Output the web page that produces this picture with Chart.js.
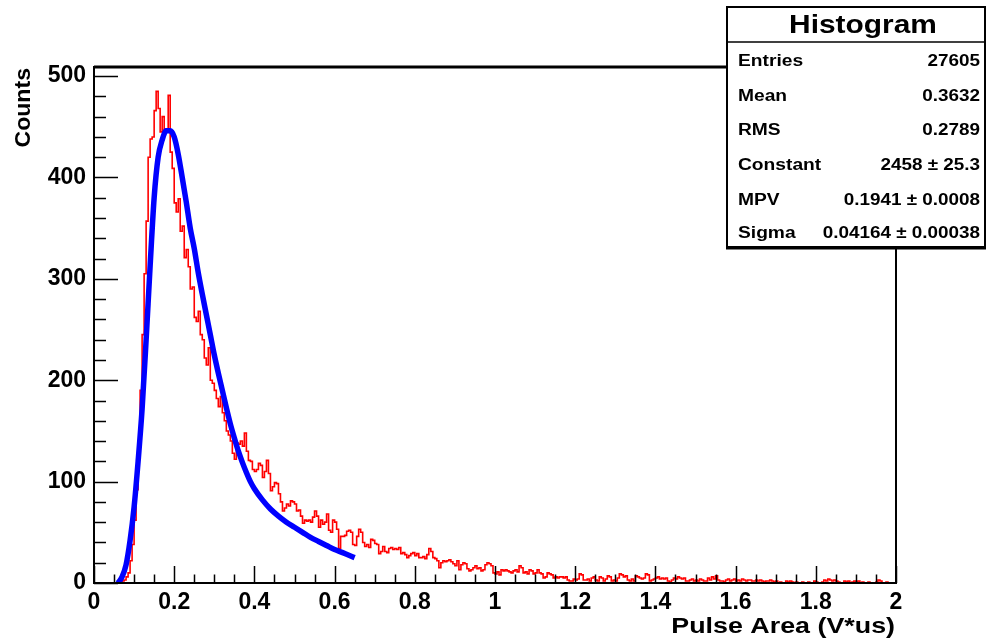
<!DOCTYPE html>
<html>
<head>
<meta charset="utf-8">
<script src="https://cdn.jsdelivr.net/npm/chart.js@4.4.1/dist/chart.umd.min.js"></script>
<style>
  html, body { margin: 0; padding: 0; background: #fff; }
  canvas { display: block; }
</style>
</head>
<body>
<canvas id="histChart" width="987" height="639"></canvas>
<script>
// histogram: 400 bins of width 0.005 from 0 to 2 (counts)
const binStart = 0;
const binWidth = 0.005;
const counts = [
  0, 0, 0, 0, 0, 0, 0, 0, 0, 0,
  0, 0, 0, 1, 2, 3, 6, 10, 22, 38,
  62, 92, 130, 190, 245, 305, 357, 420, 438, 440,
  466, 485, 468, 445, 460, 445, 448, 481, 425, 409,
  375, 366, 379, 347, 352, 321, 329, 312, 290, 292,
  262, 258, 268, 245, 240, 222, 215, 232, 200, 197,
  190, 182, 174, 184, 168, 160, 150, 146, 140, 128,
  122, 138, 137, 140, 135, 148, 130, 121, 120, 112,
  110, 112, 118, 116, 104, 110, 121, 108, 91, 95,
  99, 98, 88, 80, 71, 74, 78, 76, 81, 80,
  78, 71, 72, 66, 59, 62, 61, 62, 60, 65,
  71, 66, 55, 62, 58, 60, 68, 52, 50, 62,
  60, 53, 34, 46, 46, 47, 51, 52, 50, 38,
  37, 46, 53, 50, 40, 36, 38, 35, 43, 42,
  39, 38, 29, 31, 36, 31, 30, 34, 35, 33,
  34, 33, 35, 29, 30, 28, 25, 27, 29, 30,
  27, 29, 25, 25, 26, 24, 28, 34, 31, 25,
  24, 22, 15, 20, 22, 21, 22, 23, 21, 19,
  17, 22, 13, 18, 20, 19, 14, 12, 13, 15,
  17, 14, 15, 12, 13, 18, 20, 19, 17, 10,
  9, 11, 8, 13, 12, 13, 12, 11, 10, 12,
  13, 11, 17, 15, 10, 11, 9, 13, 12, 9,
  10, 13, 10, 9, 5, 6, 10, 9, 8, 5,
  6, 5, 6, 6, 5, 6, 3, 2, 2, 4,
  3, 4, 9, 8, 3, 3, 4, 2, 5, 6,
  3, 2, 6, 5, 2, 4, 7, 6, 2, 3,
  2, 5, 9, 8, 6, 7, 3, 2, 4, 2,
  7, 6, 5, 4, 5, 9, 8, 2, 3, 4,
  5, 6, 4, 5, 4, 5, 2, 1, 3, 5,
  4, 6, 5, 4, 5, 2, 2, 3, 4, 2,
  3, 2, 4, 3, 2, 2, 5, 3, 6, 4,
  7, 3, 2, 2, 1, 3, 4, 2, 3, 4,
  2, 3, 2, 4, 3, 2, 3, 3, 2, 2,
  3, 2, 3, 2, 1, 2, 2, 3, 2, 1,
  2, 0, 1, 0, 0, 2, 1, 2, 1, 0,
  1, 0, 0, 1, 0, 0, 1, 0, 0, 2,
  1, 0, 0, 1, 3, 2, 4, 3, 2, 3,
  2, 1, 0, 0, 2, 1, 2, 0, 1, 2,
  1, 2, 0, 1, 0, 0, 1, 0, 0, 0,
  1, 3, 2, 0, 0, 1, 0, 0, 0, 0
];

// Landau fit curve
const fitX = [0.06, 0.07, 0.08, 0.09, 0.10, 0.11, 0.12, 0.13, 0.14, 0.15, 0.16, 0.17, 0.18, 0.19,
  0.20, 0.21, 0.22, 0.23, 0.24, 0.25, 0.26, 0.27, 0.28, 0.29, 0.30, 0.31, 0.32, 0.33, 0.34,
  0.35, 0.36, 0.37, 0.38, 0.39, 0.40, 0.42, 0.44, 0.46, 0.48, 0.50, 0.52, 0.54, 0.56, 0.58,
  0.60, 0.62, 0.65];
const fitY = [0, 6, 18, 42, 75, 120, 172, 240, 313, 380, 420, 437, 446, 446,
  440, 423, 400, 376, 350, 330, 306, 285, 265, 245, 225, 207, 190, 173, 157,
  143, 130, 119, 109, 100, 93, 82, 73, 66, 60, 55, 50, 45, 41, 37,
  33, 30, 25];

const xTickValues = [0, 0.2, 0.4, 0.6, 0.8, 1, 1.2, 1.4, 1.6, 1.8, 2];
const yTickValues = [0, 100, 200, 300, 400, 500];

const statLabels = ['Entries', 'Mean', 'RMS', 'Constant', 'MPV', 'Sigma'];
const statValues = ['27605', '0.3632', '0.2789', '2458 \u00b1 25.3', '0.1941 \u00b1 0.0008', '0.04164 \u00b1 0.00038'];

const FONT = '"Liberation Sans", Arial, Helvetica, sans-serif';

const histPoints = counts.map((c, i) => ({ x: binStart + i * binWidth, y: c }));
histPoints.push({ x: binStart + counts.length * binWidth, y: counts[counts.length - 1] });
const fitPoints = fitX.map((x, i) => ({ x, y: fitY[i] }));

function wideText(ctx, txt, x, y, size, sx, align) {
  ctx.save();
  ctx.font = `bold ${size}px ${FONT}`;
  ctx.textAlign = align;
  ctx.textBaseline = 'alphabetic';
  ctx.fillStyle = '#000';
  ctx.translate(x, y);
  ctx.scale(sx, 1);
  ctx.fillText(txt, 0, 0);
  ctx.restore();
}

const rootFrame = {
  id: 'rootFrame',
  afterDatasetsDraw(chart) {
    const { ctx, chartArea: a, scales } = chart;
    ctx.save();
    ctx.strokeStyle = '#000';
    // inward ticks
    ctx.lineWidth = 1.5;
    ctx.beginPath();
    for (let k = 0; k * 20 <= scales.y.max; k++) {
      const py = Math.round(scales.y.getPixelForValue(k * 20)) + 0.5;
      const len = k % 5 === 0 ? 24 : 12;
      ctx.moveTo(a.left, py);
      ctx.lineTo(a.left + len, py);
    }
    for (let k = 0; k <= 40; k++) {
      const px = Math.round(scales.x.getPixelForValue(k * 0.05)) + 0.5;
      const len = k % 4 === 0 ? 17 : 8.5;
      ctx.moveTo(px, a.bottom);
      ctx.lineTo(px, a.bottom - len);
    }
    ctx.stroke();
    // frame
    ctx.lineWidth = 2;
    ctx.strokeRect(a.left, a.top, a.right - a.left, a.bottom - a.top);
    ctx.lineWidth = 3;
    ctx.beginPath();
    ctx.moveTo(a.left, a.top);
    ctx.lineTo(a.right, a.top);
    ctx.stroke();
    ctx.restore();
  },
  afterDraw(chart) {
    const { ctx, chartArea: a } = chart;
    // axis titles
    wideText(ctx, 'Pulse Area (V*us)', a.right - 1, 633, 22, 1.22, 'right');
    ctx.save();
    ctx.translate(30, a.top + 1);
    ctx.rotate(-Math.PI / 2);
    wideText(ctx, 'Counts', 0, 0, 22, 1.05, 'right');
    ctx.restore();

    // stats box
    const bx = 727, by = 7, bw = 258, bh = 240;
    ctx.save();
    ctx.fillStyle = '#fff';
    ctx.fillRect(bx, by, bw, bh);
    ctx.strokeStyle = '#000';
    ctx.lineWidth = 2;
    ctx.strokeRect(bx, by, bw, bh);
    ctx.lineWidth = 3;
    ctx.beginPath();
    ctx.moveTo(bx - 1, by + bh + 1);
    ctx.lineTo(bx + bw + 1, by + bh + 1);
    ctx.stroke();
    ctx.lineWidth = 1.5;
    ctx.beginPath();
    ctx.moveTo(bx, 42);
    ctx.lineTo(bx + bw, 42);
    ctx.stroke();
    ctx.restore();

    wideText(ctx, 'Histogram', 863, 33, 26, 1.15, 'center');
    const rowY = [66, 100.5, 135, 170, 205, 238];
    statLabels.forEach((lab, i) => {
      wideText(ctx, lab, 738, rowY[i], 16, 1.2, 'left');
      wideText(ctx, statValues[i], 980, rowY[i], 16, 1.18, 'right');
    });
  }
};

new Chart(document.getElementById('histChart'), {
  type: 'line',
  data: {
    datasets: [
      {
        label: 'landau fit',
        data: fitPoints,
        borderColor: '#0000ff',
        borderWidth: 5.5,
        pointRadius: 0,
        cubicInterpolationMode: 'monotone',
        fill: false
      },
      {
        label: 'Histogram',
        data: histPoints,
        borderColor: '#ff0000',
        borderWidth: 1.6,
        pointRadius: 0,
        stepped: true,
        fill: false
      }
    ]
  },
  options: {
    responsive: false,
    animation: false,
    layout: { padding: { left: 0, right: 91, top: 67, bottom: 0 } },
    scales: {
      x: {
        type: 'linear',
        min: 0,
        max: 2,
        grid: { display: false, drawTicks: false },
        border: { display: false },
        ticks: {
          padding: 6,
          color: '#000',
          font: { family: FONT, size: 23, weight: 'bold' },
          maxRotation: 0,
          autoSkip: false,
          callback: v => String(Number(v.toFixed(1)))
        },
        afterBuildTicks: s => { s.ticks = xTickValues.map(v => ({ value: v })); },
        afterFit: s => { s.height = 639 - 583; }
      },
      y: {
        min: 0,
        max: 509,
        grid: { display: false, drawTicks: false },
        border: { display: false },
        ticks: {
          padding: 8,
          color: '#000',
          font: { family: FONT, size: 23, weight: 'bold' },
          autoSkip: false,
          callback: v => String(v)
        },
        afterBuildTicks: s => { s.ticks = yTickValues.map(v => ({ value: v })); },
        afterFit: s => { s.width = 94; }
      }
    },
    plugins: {
      legend: { display: false },
      tooltip: { enabled: false }
    }
  },
  plugins: [rootFrame]
});
</script>
</body>
</html>
